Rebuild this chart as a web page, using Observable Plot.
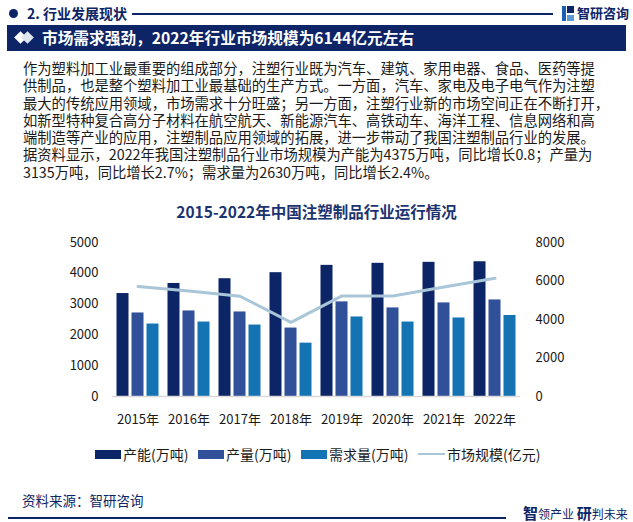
<!DOCTYPE html>
<html><head><meta charset="utf-8">
<script src="https://cdn.jsdelivr.net/npm/d3@7"></script>
<script src="https://cdn.jsdelivr.net/npm/@observablehq/plot@0.6"></script>
<style>
html,body{margin:0;padding:0;background:#fff;}
#page{position:relative;width:633px;height:522px;overflow:hidden;font-family:"Noto Sans CJK SC","Noto Sans",sans-serif;color:#1a1a1a;}
.abs{position:absolute;white-space:nowrap;}
#hdr{left:27px;top:3px;font-size:14px;font-weight:bold;color:#0d2466;line-height:20px;}
#dot{left:9px;top:9px;width:9px;height:9px;border-radius:50%;background:#0d2466;}
#hline{left:132px;top:13px;width:421px;height:1.5px;background:#0d2466;}
#logo{left:577px;top:3px;font-size:13px;font-weight:bold;color:#0d2466;line-height:20px;}
#bar{left:7px;top:25px;width:619px;height:26px;background:#0d2466;}
#ttl{left:42px;top:25px;font-size:15.7px;font-weight:bold;color:#fff;line-height:26px;}
.dia{position:absolute;width:9px;height:9px;transform:rotate(45deg);}
#para{left:23px;top:59px;font-size:14.3px;color:#1a1a1a;}
#para div{height:17.3px;line-height:17.3px;white-space:nowrap;}
#ctitle{left:0;width:633px;text-align:center;top:200px;font-size:15.5px;font-weight:bold;color:#1b3370;line-height:22px;}
#chart{left:0;top:230px;}
#legend{left:95px;top:443px;display:flex;align-items:center;font-size:14px;line-height:22px;color:#1a1a1a;}
.li{display:flex;align-items:center;margin-right:9.5px;}
.sw{width:26px;height:9px;margin-right:2px;}
#src{left:22px;top:490px;font-size:13.5px;color:#0d2466;line-height:20px;}
#fline{left:8px;top:517px;width:498px;height:1.5px;background:#0d2466;}
#slogan{left:523px;top:503px;font-size:12px;color:#0d2466;line-height:20px;}
</style></head>
<body>
<div id="page">
  <div class="abs" id="dot"></div>
  <div class="abs" id="hdr">2. 行业发展现状</div>
  <div class="abs" id="hline"></div>
  <div class="abs" style="left:562px;top:6px;width:4px;height:15px;background:#1a5fb4;"></div>
  <div class="abs" style="left:567px;top:6px;width:7px;height:7px;background:#0d2466;"></div>
  <div class="abs" style="left:567px;top:15px;width:7px;height:6px;background:#5b9bd5;"></div>
  <div class="abs" id="logo">智研咨询</div>
  <div class="abs" id="bar"></div>
  <div class="dia" style="left:16px;top:33px;background:#fff;"></div>
  <div class="dia" style="left:23px;top:33px;background:#dfe4ee;"></div>
  <div class="abs" id="ttl">市场需求强劲，2022年行业市场规模为6144亿元左右</div>
  <div class="abs" id="para">
    <div>作为塑料加工业最重要的组成部分，注塑行业既为汽车、建筑、家用电器、食品、医药等提</div>
    <div>供制品，也是整个塑料加工业最基础的生产方式。一方面，汽车、家电及电子电气作为注塑</div>
    <div>最大的传统应用领域，市场需求十分旺盛；另一方面，注塑行业新的市场空间正在不断打开，</div>
    <div>如新型特种复合高分子材料在航空航天、新能源汽车、高铁动车、海洋工程、信息网络和高</div>
    <div>端制造等产业的应用，注塑制品应用领域的拓展，进一步带动了我国注塑制品行业的发展。</div>
    <div>据资料显示，2022年我国注塑制品行业市场规模为产能为4375万吨，同比增长0.8；产量为</div>
    <div>3135万吨，同比增长2.7%；需求量为2630万吨，同比增长2.4%。</div>
  </div>
  <div class="abs" id="ctitle">2015-2022年中国注塑制品行业运行情况</div>
  <div class="abs" id="chart"></div>
  <div class="abs" id="legend"></div>
  <div class="abs" id="src">资料来源：智研咨询</div>
  <div class="abs" id="fline"></div>
  <div class="abs" id="slogan"><b style="font-size:15px">智</b>领产业 <b style="font-size:15px">研</b>判未来</div>
</div>
<script>
// ---- data ----
const years = ["2015年","2016年","2017年","2018年","2019年","2020年","2021年","2022年"];
const capacity = [3343, 3670, 3824, 4020, 4258, 4324, 4356, 4375];   // 产能(万吨)
const output   = [2712, 2778, 2745, 2222, 3072, 2876, 3039, 3135];   // 产量(万吨)
const demand   = [2353, 2418, 2320, 1732, 2582, 2418, 2549, 2630];   // 需求量(万吨)
const market   = [5713, 5484, 5208, 3854, 5224, 5224, 5693, 6144];   // 市场规模(亿元)
const leftTicks  = [0, 1000, 2000, 3000, 4000, 5000];
const rightTicks = [0, 2000, 4000, 6000, 8000];
const seriesNames = ["产能(万吨)", "产量(万吨)", "需求量(万吨)", "市场规模(亿元)"];
const colors = ["#0c2566", "#30519a", "#1474b3", "#a9c6d8"];

const leftMax = 5000, rightMax = 8000;
const k = leftMax / rightMax;
const rows = (vals) => years.map((y, i) => ({year: y, value: vals[i]}));
const lineRows = years.map((y, i) => ({year: y, value: market[i] * k}));

const inset = 19.5, step = 15;
const chart = Plot.plot({
  width: 633,
  height: 201,
  marginLeft: 112,
  marginRight: 113,
  marginTop: 12,
  marginBottom: 35,
  style: {fontFamily: "'Noto Sans CJK SC', sans-serif", fontSize: "13px", color: "#1a1a1a", background: "transparent", overflow: "visible"},
  x: {type: "band", domain: years, padding: 0, label: null},
  y: {domain: [0, leftMax], label: null},
  marks: [
    Plot.barY(rows(capacity), {x: "year", y: "value", fill: colors[0], dx: -step, insetLeft: inset, insetRight: inset}),
    Plot.barY(rows(output),   {x: "year", y: "value", fill: colors[1], insetLeft: inset, insetRight: inset}),
    Plot.barY(rows(demand),   {x: "year", y: "value", fill: colors[2], dx: step, insetLeft: inset, insetRight: inset}),
    Plot.ruleY([0], {stroke: "#d9d9d9", strokeWidth: 1.5}),
    Plot.lineY(lineRows, {x: "year", y: "value", stroke: colors[3], strokeWidth: 3}),
    Plot.axisY({anchor: "left", ticks: leftTicks, tickSize: 0, tickPadding: 14, tickFormat: d => String(d), label: null}),
    Plot.axisY({anchor: "right", ticks: rightTicks.map(v => v * k), tickSize: 0, tickPadding: 15, tickFormat: d => String(Math.round(d / k)), label: null}),
    Plot.axisX({tickSize: 0, tickPadding: 18, label: null})
  ]
});
document.getElementById("chart").appendChild(chart);

// legend
const lg = document.getElementById("legend");
seriesNames.forEach((name, i) => {
  const it = document.createElement("div");
  it.className = "li";
  const sw = document.createElement("div");
  sw.className = "sw";
  sw.style.background = colors[i];
  if (i === 3) { sw.style.height = "2.5px"; sw.style.width = "27px"; }
  const t = document.createElement("span");
  t.textContent = name;
  it.appendChild(sw); it.appendChild(t);
  lg.appendChild(it);
});
</script>
</body></html>
